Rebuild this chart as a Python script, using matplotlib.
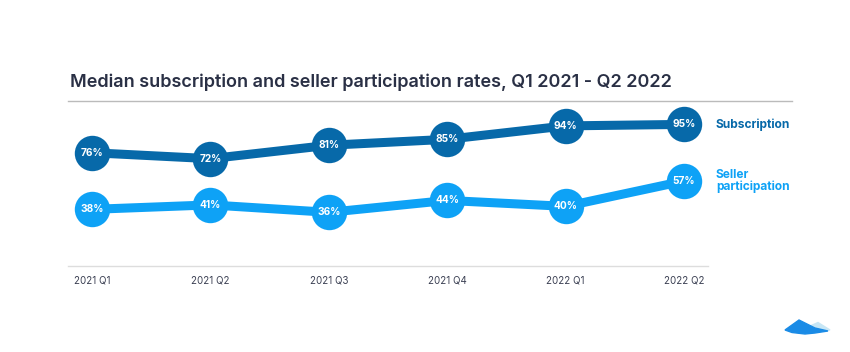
import matplotlib
matplotlib.use("Agg")
import matplotlib.pyplot as plt
from matplotlib.patches import Polygon
from matplotlib.lines import Line2D

quarters = ["2021 Q1", "2021 Q2", "2021 Q3", "2021 Q4", "2022 Q1", "2022 Q2"]
subscription = [76, 72, 81, 85, 94, 95]
seller = [38, 41, 36, 44, 40, 57]
series_names = ["Subscription", "Seller\nparticipation"]

W, H = 850, 352
fig = plt.figure(figsize=(W / 100, H / 100), dpi=100)
fig.patch.set_facecolor("white")

FONT = ["Inter", "DejaVu Sans"]
dark = "#0769a9"
light = "#0ea2f6"

# axes spans x 68..708 px, y 101..266 px
ax = fig.add_axes([68 / W, 1 - 266 / H, (708 - 68) / W, (266 - 101) / H])
x = list(range(len(quarters)))
for vals, col in [(subscription, dark), (seller, light)]:
    ax.plot(x, vals, color=col, lw=6.5, solid_capstyle="round", zorder=2)
    ax.plot(x, vals, "o", color=col, ms=25.5, mec="white", mew=0, zorder=3)
    for xi, v in zip(x, vals):
        ax.text(xi, v, f"{v}%", ha="center", va="center", color="white",
                fontsize=7.3, fontweight="bold", family=FONT, zorder=4)

ax.set_xlim(-0.203, 5.203)
ax.set_ylim(0, 110.7)
ax.set_yticks([])
ax.set_xticks(x)
ax.set_xticklabels(quarters, family=FONT, fontsize=7, color="#3a3f52")
ax.tick_params(axis="x", length=0, pad=7)
for s in ["top", "right", "left"]:
    ax.spines[s].set_visible(False)
ax.spines["bottom"].set_color("#dddddd")
ax.spines["bottom"].set_linewidth(1)
ax.patch.set_alpha(0)

# series labels
ax.text(5.27, subscription[-1], series_names[0], ha="left", va="center",
        color=dark, fontsize=8.6, fontweight="bold", family=FONT, clip_on=False)
ax.text(5.27, seller[-1], series_names[1], ha="left", va="center",
        color=light, fontsize=8.6, fontweight="bold", family=FONT, clip_on=False,
        linespacing=0.95)

# title and separator
fig.text(70 / W, 1 - 82 / H, "Median subscription and seller participation rates, Q1 2021 - Q2 2022",
         ha="left", va="center", fontsize=13, fontweight="semibold", color="#2a3045", family=FONT)
fig.add_artist(Line2D([68 / W, 792 / W], [1 - 101 / H] * 2, color="#bbbbbb", lw=1,
                      transform=fig.transFigure))

# logo
def fp(px, py):
    return (px / W, 1 - py / H)

light_m = Polygon([fp(808, 327), fp(818, 322.5), fp(830, 330), fp(815, 331)],
                  closed=True, transform=fig.transFigure, color="#c7e6f5")
blue_m = Polygon([fp(785, 330), fp(799, 320), fp(815, 328), fp(828, 331),
                  fp(815, 333), fp(805, 334), fp(792, 332.5)],
                 closed=True, transform=fig.transFigure, color="#1a8be6")
fig.add_artist(light_m)
fig.add_artist(blue_m)

fig.savefig("out.png", dpi=100)
